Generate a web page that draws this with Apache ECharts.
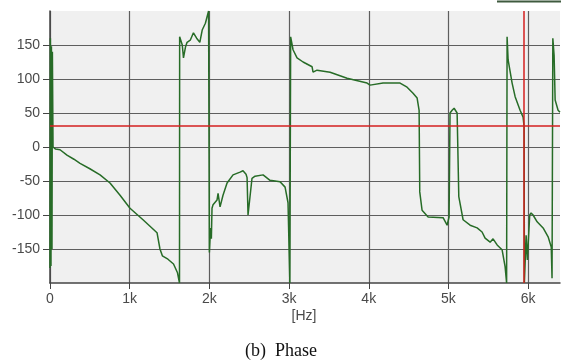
<!DOCTYPE html>
<html>
<head>
<meta charset="utf-8">
<script src="https://cdn.jsdelivr.net/npm/echarts@6/dist/echarts.min.js"></script>
<style>
  html, body { margin: 0; padding: 0; background: #fff; }
  #chart1 { width: 561px; height: 360px; }
</style>
</head>
<body>
<div id="chart1"></div>
<script>
// frequency (kHz) and phase (deg)
var freqK = [
    0, 0.005, 0.012, 0.018, 0.025, 0.03, 0.038, 0.07, 0.126, 0.213, 0.3, 0.377, 0.5, 0.628, 0.753, 0.879, 1.004, 1.167, 1.343, 1.38, 1.41, 1.48, 1.55, 1.6, 1.625,
    1.627, 1.66, 1.675, 1.7, 1.72, 1.76, 1.8, 1.84, 1.88, 1.91, 1.95, 1.99,
    2.0, 2.015, 2.025, 2.033, 2.046, 2.096, 2.109, 2.134, 2.171, 2.222, 2.297, 2.385, 2.422, 2.46, 2.473, 2.485, 2.51, 2.535, 2.573, 2.674, 2.761, 2.887, 2.95, 2.987, 3.01,
    3.02, 3.05, 3.1, 3.176, 3.289, 3.301, 3.351, 3.515, 3.728, 3.979, 4.017, 4.18, 4.393, 4.481, 4.556, 4.607, 4.632,
    4.64, 4.669, 4.745, 4.933, 4.983, 5.008, 5.02, 5.046, 5.071, 5.109, 5.12,
    5.13, 5.184, 5.272, 5.36, 5.422, 5.46, 5.523, 5.56, 5.611, 5.673, 5.711, 5.73,
    5.736, 5.749, 5.799, 5.837, 5.899, 5.937, 5.95, 5.953,
    5.975, 5.99, 6.02, 6.037, 6.062, 6.113, 6.188, 6.251, 6.29, 6.3,
    6.31, 6.326, 6.339, 6.376, 6.4
];
var phaseDeg = [
    -178, 160, -175, 148, -150, 140, 0, -3, -4, -12, -18, -24, -32, -41, -53, -71, -90, -107, -126, -150, -160, -165, -172, -185, -200,
    162, 150, 131, 147, 154, 157, 168, 160, 154, 172, 182, 200,
    -155, -119, -135, -90, -85, -78, -68, -88, -71, -53, -41, -37, -35, -40, -45, -100, -100, -46, -43, -41, -49, -51, -59, -82, -200,
    162, 143, 131, 125, 118, 110, 113, 110, 101, 94, 91, 94, 94, 88, 79, 72, 54,
    -66, -93, -103, -104, -115, -103, 50, 54, 57, 50, 48,
    -73, -107, -115, -119, -125, -134, -140, -135, -144, -151, -176, -200,
    162, 128, 94, 74, 54, 44, 29, -200,
    -130, -166, -100, -97, -100, -110, -119, -132, -147, -193,
    160, 135, 69, 54, 51
];

var xTicks = [0, 1000, 2000, 3000, 4000, 5000, 6000];
var yTicks = [-150, -100, -50, 0, 50, 100, 150];
var cursorPhase = 31;
var cursorFreq = 5940;

var points = freqK.map(function (f, i) {
    return [f * 1000, phaseDeg[i]];
});

var chart = echarts.init(document.getElementById('chart1'));

var labelFont = 'Liberation Sans Narrow, Liberation Sans, sans-serif';

var option = {
    animation: false,
    backgroundColor: '#fff',
    grid: {
        left: 50, top: 11, width: 510, height: 272,
        show: true, backgroundColor: '#f0f0f0', borderWidth: 0
    },
    xAxis: {
        type: 'value', min: 0, max: 6400, interval: 1000,
        axisLine: { show: true, onZero: false, lineStyle: { color: '#444', width: 1.5 } },
        axisTick: { show: true, length: 6, customValues: xTicks, lineStyle: { color: '#444' } },
        axisLabel: {
            customValues: xTicks, margin: 9, color: '#4a4a4a', fontSize: 14, fontFamily: labelFont,
            formatter: function (v) { return v === 0 ? '0' : (v / 1000) + 'k'; }
        },
        splitLine: { show: true, lineStyle: { color: '#5e5e5e', width: 1.2 } }
    },
    yAxis: {
        type: 'value', min: -200, max: 200, interval: 50,
        axisLine: { show: true, onZero: false, lineStyle: { color: '#444', width: 1.5 } },
        axisTick: { show: true, length: 7, customValues: yTicks, lineStyle: { color: '#444' } },
        axisLabel: { customValues: yTicks, margin: 10, color: '#4a4a4a', fontSize: 14, fontFamily: labelFont },
        splitLine: {
            show: true,
            lineStyle: {
                color: ['#5e5e5e', '#5e5e5e', '#5e5e5e', '#5e5e5e', '#5e5e5e', '#5e5e5e', '#5e5e5e', '#5e5e5e', 'rgba(0,0,0,0)'],
                width: 1.2
            }
        }
    },
    series: [{
        name: 'Phase',
        type: 'line',
        data: points,
        showSymbol: false,
        clip: true,
        lineStyle: { color: '#276c27', width: 1.5 },
        markLine: {
            silent: true,
            symbol: 'none',
            label: { show: false },
            lineStyle: { color: '#d42020', width: 1.5, type: 'solid' },
            data: [{ yAxis: cursorPhase }, { xAxis: cursorFreq }]
        }
    }],
    graphic: [
        {
            type: 'line',
            shape: { x1: 497, y1: 1.5, x2: 561, y2: 1.5 },
            style: { stroke: '#3f5a3f', lineWidth: 2 }
        },
        {
            type: 'text', x: 304, y: 316,
            style: {
                text: '[Hz]', fill: '#4a4a4a', font: '14px ' + labelFont,
                textAlign: 'center', textVerticalAlign: 'middle'
            }
        },
        {
            type: 'text', x: 281, y: 351,
            style: {
                text: '(b)  Phase', fill: '#111', font: '18px Liberation Serif, serif',
                textAlign: 'center', textVerticalAlign: 'middle'
            }
        }
    ]
};

chart.setOption(option);
</script>
</body>
</html>
